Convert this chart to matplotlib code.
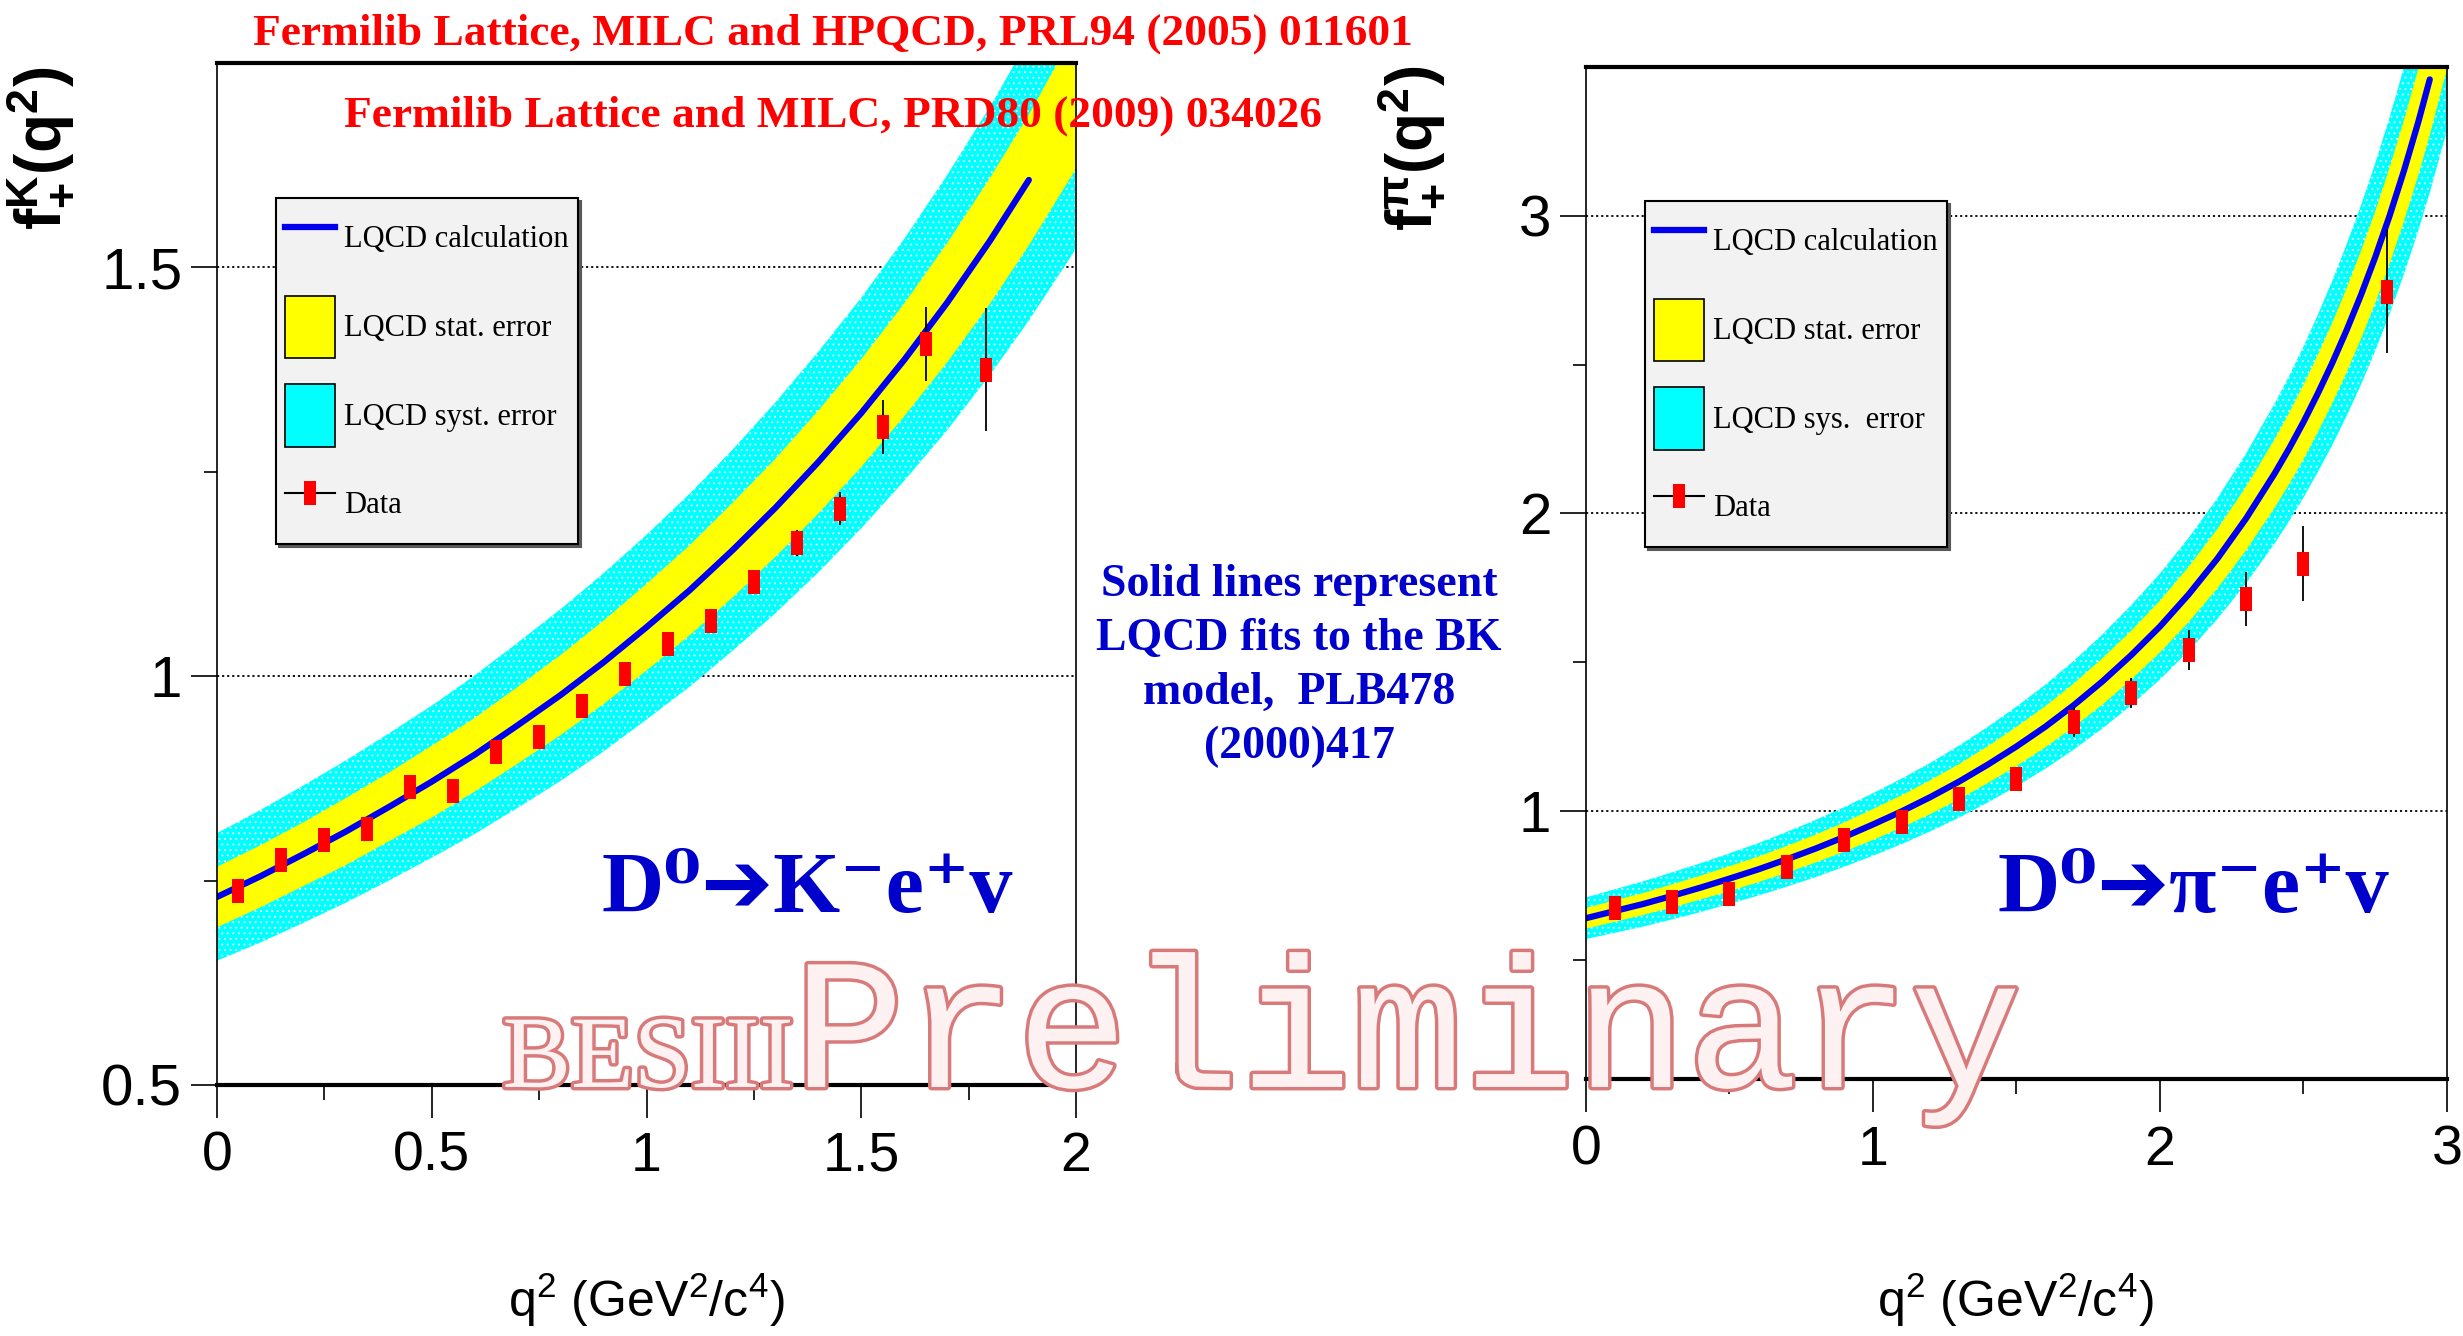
import numpy as np
import matplotlib
matplotlib.use("Agg")
import matplotlib.pyplot as plt
from matplotlib import font_manager as fm
from matplotlib.lines import Line2D
from matplotlib.patches import Patch
import matplotlib.patheffects as pe

# ---------------- data ----------------
# D0 -> K- e+ nu : LQCD band (central value, stat and syst half widths)
k_band_q2 = [0.0, 0.1, 0.2, 0.3, 0.4, 0.5, 0.6, 0.7, 0.8, 0.9, 1.0,
             1.1, 1.2, 1.3, 1.4, 1.5, 1.6, 1.7, 1.8, 1.89, 2.0]
k_band_f = [0.730, 0.755, 0.782, 0.810, 0.840, 0.871, 0.904, 0.940, 0.977, 1.017, 1.060,
            1.105, 1.154, 1.206, 1.262, 1.322, 1.387, 1.457, 1.533, 1.607, 1.706]
k_band_stat = [0.037, 0.038, 0.039, 0.041, 0.042, 0.044, 0.045, 0.047, 0.049, 0.051, 0.053,
               0.055, 0.058, 0.060, 0.063, 0.066, 0.069, 0.073, 0.077, 0.080, 0.085]
k_band_syst = [0.078, 0.081, 0.084, 0.087, 0.090, 0.093, 0.097, 0.101, 0.105, 0.109, 0.113,
               0.118, 0.123, 0.129, 0.135, 0.141, 0.148, 0.156, 0.164, 0.172, 0.183]
k_line_end = 1.89

k_data_q2 = [0.05, 0.15, 0.25, 0.35, 0.45, 0.55, 0.65, 0.75, 0.85, 0.95,
             1.05, 1.15, 1.25, 1.35, 1.45, 1.55, 1.65, 1.79]
k_data_f = [0.737, 0.775, 0.800, 0.813, 0.864, 0.859, 0.907, 0.926, 0.963, 1.003,
            1.040, 1.067, 1.115, 1.163, 1.205, 1.305, 1.406, 1.375]
k_data_err = [0.008, 0.008, 0.008, 0.009, 0.009, 0.010, 0.010, 0.010, 0.011, 0.011,
              0.012, 0.012, 0.013, 0.016, 0.020, 0.033, 0.045, 0.075]

# D0 -> pi- e+ nu
pi_band_q2 = [0.0, 0.1, 0.2, 0.3, 0.4, 0.5, 0.6, 0.7, 0.8, 0.9, 1.0, 1.1, 1.2,
              1.3, 1.4, 1.5, 1.6, 1.7, 1.8, 1.9, 2.0, 2.1, 2.2, 2.3, 2.4,
              2.45, 2.5, 2.55, 2.6, 2.65, 2.7, 2.75, 2.8, 2.85, 2.9, 2.94, 3.0]
pi_band_f = [0.640, 0.664, 0.688, 0.715, 0.743, 0.773, 0.804, 0.838, 0.874, 0.913, 0.955, 0.999, 1.047,
             1.099, 1.156, 1.217, 1.283, 1.356, 1.436, 1.524, 1.620, 1.728, 1.848, 1.983, 2.135,
             2.218, 2.307, 2.403, 2.505, 2.615, 2.733, 2.861, 3.000, 3.151, 3.315, 3.458, 3.693]
pi_band_stat = [0.035, 0.036, 0.037, 0.039, 0.040, 0.042, 0.043, 0.045, 0.047, 0.049, 0.052, 0.054, 0.057,
                0.059, 0.062, 0.066, 0.069, 0.073, 0.078, 0.082, 0.087, 0.093, 0.100, 0.107, 0.115,
                0.120, 0.125, 0.130, 0.135, 0.141, 0.148, 0.154, 0.162, 0.170, 0.179, 0.187, 0.199]
pi_band_syst = [0.070, 0.073, 0.076, 0.079, 0.082, 0.085, 0.088, 0.092, 0.096, 0.100, 0.105, 0.110, 0.115,
                0.121, 0.127, 0.134, 0.141, 0.149, 0.158, 0.168, 0.178, 0.190, 0.203, 0.218, 0.235,
                0.244, 0.254, 0.264, 0.276, 0.288, 0.301, 0.315, 0.330, 0.347, 0.365, 0.380, 0.406]
pi_line_end = 2.94

pi_data_q2 = [0.1, 0.3, 0.5, 0.7, 0.9, 1.1, 1.3, 1.5, 1.7, 1.9, 2.1, 2.3, 2.5, 2.79]
pi_data_f = [0.674, 0.693, 0.722, 0.811, 0.903, 0.964, 1.039, 1.109, 1.299, 1.396,
             1.541, 1.713, 1.831, 2.745]
pi_data_err = [0.010, 0.010, 0.010, 0.012, 0.014, 0.016, 0.020, 0.025, 0.050, 0.050,
               0.066, 0.090, 0.126, 0.207]

k_xticks = [0, 0.5, 1, 1.5, 2]
k_xticklabels = ["0", "0.5", "1", "1.5", "2"]
k_yticks = [0.5, 1, 1.5]
k_yticklabels = ["0.5", "1", "1.5"]
pi_xticks = [0, 1, 2, 3]
pi_xticklabels = ["0", "1", "2", "3"]
pi_yticks = [1, 2, 3]
pi_yticklabels = ["1", "2", "3"]

k_legend_labels = ["LQCD calculation", "LQCD stat. error", "LQCD syst. error", "Data"]
pi_legend_labels = ["LQCD calculation", "LQCD stat. error", "LQCD sys.  error", "Data"]

# ---------------- fonts ----------------
_avail = {f.name for f in fm.fontManager.ttflist}


def pick(*names):
    for n in names:
        if n in _avail:
            return n
    return "DejaVu Sans"


NARROW = pick("Liberation Sans Narrow", "DejaVu Sans Condensed", "Liberation Sans")
SANS = pick("Liberation Sans", "Arial", "DejaVu Sans")
SERIF = pick("Liberation Serif", "DejaVu Serif")
MONO = pick("Liberation Mono", "DejaVu Sans Mono")

plt.rcParams["font.family"] = [SANS, "DejaVu Sans"]
plt.rcParams["mathtext.fontset"] = "custom"
plt.rcParams["mathtext.rm"] = NARROW
plt.rcParams["mathtext.it"] = NARROW + ":italic"
plt.rcParams["mathtext.bf"] = SERIF + ":bold"
plt.rcParams["mathtext.sf"] = SANS + ":bold"
plt.rcParams["hatch.color"] = "white"
plt.rcParams["hatch.linewidth"] = 0.6

CYAN = "#00ffff"
YELLOW = "#ffff00"
BLUE = "#0000ee"
RECT = [(-0.27, -0.5), (0.27, -0.5), (0.27, 0.5), (-0.27, 0.5), (-0.27, -0.5)]

fig = plt.figure(figsize=(24.63, 13.36), dpi=100)
axK = fig.add_axes([0.0881, 0.1879, 0.3488, 0.7649])
axP = fig.add_axes([0.6439, 0.1924, 0.3496, 0.7575])


def draw_panel(ax, qb, fc, stat, syst, qend, xd, yd, ed):
    qb = np.asarray(qb)
    fc = np.asarray(fc)
    stat = np.asarray(stat)
    syst = np.asarray(syst)
    ax.fill_between(qb, fc - syst, fc + syst, facecolor=CYAN, hatch="...",
                    linewidth=0, zorder=1)
    ax.fill_between(qb, fc - stat, fc + stat, facecolor=YELLOW, linewidth=0, zorder=2)
    m = qb <= qend + 1e-9
    ax.plot(qb[m], fc[m], color=BLUE, lw=4.5, zorder=3, solid_capstyle="round")
    ax.errorbar(xd, yd, yerr=ed, fmt="none", ecolor="black", elinewidth=1.3, zorder=4)
    ax.plot(xd, yd, ls="none", marker=RECT, ms=17, mfc="red", mec="red", mew=0, zorder=5)


def style_axes(ax, xlim, ylim, xt, xtl, xminor, yt, ytl, yminor):
    ax.set_xlim(*xlim)
    ax.set_ylim(*ylim)
    ax.set_xticks(xt)
    ax.set_xticklabels(xtl, fontfamily=NARROW, fontsize=40)
    ax.set_xticks(xminor, minor=True)
    ax.set_yticks(yt)
    ax.set_yticklabels(ytl, fontfamily=NARROW, fontsize=42)
    ax.set_yticks(yminor, minor=True)
    ax.tick_params(axis="x", which="major", direction="out", length=24, width=1.2, pad=9)
    ax.tick_params(axis="x", which="minor", direction="out", length=11, width=1.2)
    ax.tick_params(axis="y", which="major", direction="out", length=19, width=1.2, pad=6)
    ax.tick_params(axis="y", which="minor", direction="out", length=9.5, width=1.2)
    ax.tick_params(top=False, right=False, which="both")
    for gy in yt:
        if ylim[0] < gy < ylim[1]:
            ax.axhline(gy, color="black", lw=1.3, ls=(0, (1.2, 1.6)), zorder=0.5)
    ax.spines["top"].set_linewidth(3)
    ax.spines["bottom"].set_linewidth(3)
    ax.spines["left"].set_linewidth(1.2)
    ax.spines["right"].set_linewidth(1.2)
    for s in ax.spines.values():
        s.set_zorder(6)


draw_panel(axK, k_band_q2, k_band_f, k_band_stat, k_band_syst, k_line_end,
           k_data_q2, k_data_f, k_data_err)
draw_panel(axP, pi_band_q2, pi_band_f, pi_band_stat, pi_band_syst, pi_line_end,
           pi_data_q2, pi_data_f, pi_data_err)

style_axes(axK, (0, 2), (0.5, 1.75), k_xticks, k_xticklabels, [0.25, 0.75, 1.25, 1.75],
           k_yticks, k_yticklabels, [0.75, 1.25])
style_axes(axP, (0, 3), (0.1, 3.5), pi_xticks, pi_xticklabels, [0.5, 1.5, 2.5],
           pi_yticks, pi_yticklabels, [0.5, 1.5, 2.5])


def add_legend(ax, labels, anchor):
    handles = [
        Line2D([], [], color=BLUE, lw=4.5),
        Patch(facecolor=YELLOW, edgecolor="black", lw=1.2),
        Patch(facecolor=CYAN, edgecolor="black", lw=1.2),
        Line2D([], [], color="black", lw=1.5, marker=RECT, ms=17, mfc="red", mec="red", mew=0),
    ]
    leg = ax.legend(handles, labels, loc="upper left", bbox_to_anchor=anchor,
                    bbox_transform=ax.transAxes, borderaxespad=0,
                    prop={"family": SERIF, "size": 22}, handlelength=1.63,
                    handleheight=2.76, labelspacing=0.86, handletextpad=0.3,
                    borderpad=0.3, frameon=True, fancybox=False,
                    shadow={"color": "0.35", "alpha": 1}, facecolor="#f2f2f2",
                    edgecolor="black", framealpha=1)
    leg.get_frame().set_linewidth(1.5)
    leg.set_zorder(10)
    return leg


add_legend(axK, k_legend_labels, (0.069, 0.868))
add_legend(axP, pi_legend_labels, (0.0685, 0.8676))

# axis titles
fig.text(0.0158, 0.8892, r"$\mathsf{f_{+}^{K}(q^{2})}$", rotation=90, ha="center",
         va="center", fontsize=46)
fig.text(0.5721, 0.8892, r"$\mathsf{f_{+}^{\pi}(q^{2})}$", rotation=90, ha="center",
         va="center", fontsize=46)
fig.text(0.2625, 0.027, r"q$^2$ (GeV$^2$/c$^4$)", family=NARROW, fontsize=36,
         ha="center", va="center")
fig.text(0.8183, 0.027, r"q$^2$ (GeV$^2$/c$^4$)", family=NARROW, fontsize=36,
         ha="center", va="center")

# references
fig.text(0.3382, 0.9746, "Fermilib Lattice, MILC and HPQCD, PRL94 (2005) 011601",
         ha="center", va="center", color="red", fontsize=32.7, fontweight="bold",
         family=SERIF, zorder=12)
fig.text(0.3382, 0.9132, "Fermilib Lattice and MILC, PRD80 (2009) 034026",
         ha="center", va="center", color="red", fontsize=32.7, fontweight="bold",
         family=SERIF, zorder=12)

# note
fig.text(0.5274, 0.5015, "Solid lines represent\nLQCD fits to the BK\nmodel,  PLB478\n(2000)417",
         ha="center", va="center", color="#0000cc", fontsize=33, fontweight="bold",
         family=SERIF, linespacing=1.38)

# decay labels
DECAY_FAM = [SERIF, "DejaVu Serif", "DejaVu Sans"]
fig.text(0.3277, 0.333, "D\u2070\u2794K\u207be\u207av", ha="center",
         va="center", color="#0000cc", fontsize=62, fontweight="bold", family=DECAY_FAM, zorder=12)
fig.text(0.8904, 0.333, "D\u2070\u2794\u03c0\u207be\u207av", ha="center",
         va="center", color="#0000cc", fontsize=62, fontweight="bold", family=DECAY_FAM, zorder=12)

# watermark
wm = [pe.Stroke(linewidth=5, foreground="#d97a7a"), pe.Normal()]
fig.text(0.204, 0.1864, "BESIII", family=SERIF, fontsize=74, color="#fdf1f1",
         path_effects=wm, zorder=20, ha="left", va="baseline")
fig.text(0.322, 0.1864, "Preliminary", family=MONO, fontsize=134, color="#fdf1f1",
         path_effects=wm, zorder=20, ha="left", va="baseline")

fig.savefig("out.png", dpi=100)
